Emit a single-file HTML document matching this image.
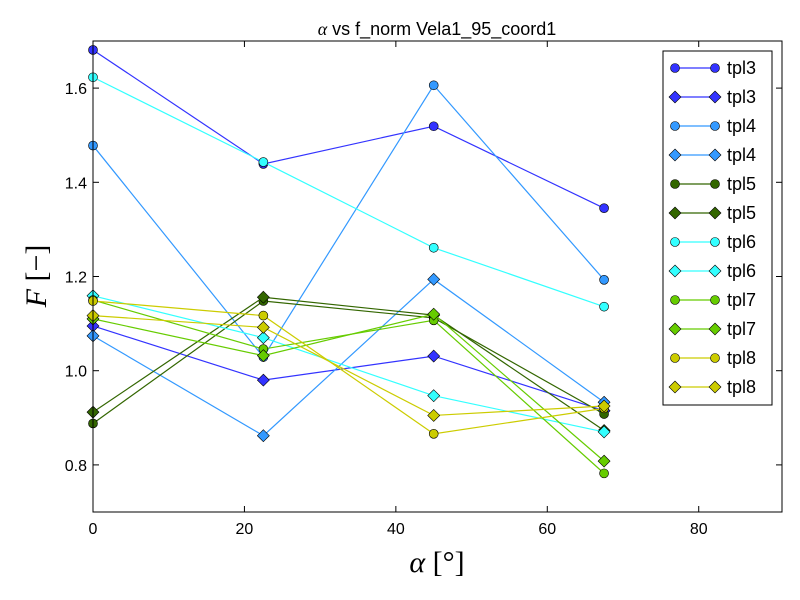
<!DOCTYPE html>
<html><head><meta charset="utf-8"><style>body{margin:0;background:#fff}svg{display:block}</style></head>
<body>
<svg id="chart" width="800" height="600" xmlns="http://www.w3.org/2000/svg" font-family="Liberation Sans, DejaVu Sans, sans-serif">
<rect width="800" height="600" fill="#fff"/>
<text x="437" y="35" font-size="18" text-anchor="middle"><tspan font-family="Liberation Serif, serif" font-style="italic">α</tspan> vs f_norm Vela1_95_coord1</text>
<g id="axes"></g>
<g id="series"></g>
<rect x="93" y="41" width="689" height="471" fill="none" stroke="#000" stroke-width="1"/>
<text x="437" y="572" font-size="30" text-anchor="middle" font-family="Liberation Serif, DejaVu Serif, serif"><tspan font-style="italic">α</tspan> [°]</text>
<text transform="translate(46,276) rotate(-90)" font-size="30" text-anchor="middle" font-family="Liberation Serif, DejaVu Serif, serif"><tspan font-style="italic">F</tspan> [−]</text>
<g id="legend"></g>
</svg>
<script>
const xValues = [0, 22.5, 45, 67.5];
const seriesNames = ["tpl3","tpl3","tpl4","tpl4","tpl5","tpl5","tpl6","tpl6","tpl7","tpl7","tpl8","tpl8"];
const seriesMarkers = ["o","d","o","d","o","d","o","d","o","d","o","d"];
const seriesColors = ["#3333ff","#3333ff","#3399ff","#3399ff","#336600","#336600","#33ffff","#33ffff","#66cc00","#66cc00","#cccc00","#cccc00"];
const tpl3Circle = [1.681, 1.439, 1.519, 1.345];
const tpl3Diamond = [1.095, 0.980, 1.031, 0.915];
const tpl4Circle = [1.478, 1.029, 1.606, 1.193];
const tpl4Diamond = [1.074, 0.862, 1.194, 0.933];
const tpl5Circle = [0.888, 1.148, 1.112, 0.908];
const tpl5Diamond = [0.912, 1.156, 1.118, 0.873];
const tpl6Circle = [1.623, 1.443, 1.261, 1.136];
const tpl6Diamond = [1.159, 1.070, 0.947, 0.870];
const tpl7Circle = [1.150, 1.046, 1.107, 0.782];
const tpl7Diamond = [1.110, 1.032, 1.120, 0.808];
const tpl8Circle = [1.148, 1.117, 0.866, 0.920];
const tpl8Diamond = [1.117, 1.092, 0.905, 0.925];
const allSeries = [tpl3Circle,tpl3Diamond,tpl4Circle,tpl4Diamond,tpl5Circle,tpl5Diamond,tpl6Circle,tpl6Diamond,tpl7Circle,tpl7Diamond,tpl8Circle,tpl8Diamond];
const xTicks = [0,20,40,60,80];
const yTicks = [0.8,1.0,1.2,1.4,1.6];
const yTickLabels = ["0.8","1.0","1.2","1.4","1.6"];

const L=93,R=782,T=41,B=512, X0=0,X1=91,Y0=0.7,Y1=1.7;
const xs=v=>L+(v-X0)/(X1-X0)*(R-L);
const ys=v=>B-(v-Y0)/(Y1-Y0)*(B-T);
const NS="http://www.w3.org/2000/svg";
function mk(tag,attrs,parent){const e=document.createElementNS(NS,tag);for(const k in attrs)e.setAttribute(k,attrs[k]);parent.appendChild(e);return e;}
const axes=document.getElementById('axes');
xTicks.forEach(t=>{const x=xs(t);
 const tk=mk('line',{x1:x,x2:x,y1:B,y2:B-6,stroke:'#000'},axes);
 
 
 const tk2=mk('line',{x1:x,x2:x,y1:T,y2:T+6,stroke:'#000'},axes);
 
 
 const tx=mk('text',{x:x,y:B+22,'font-size':16,'text-anchor':'middle'},axes);tx.textContent=t;
 
 });
yTicks.forEach((t,i)=>{const y=ys(t);
 const tk=mk('line',{x1:L,x2:L+6,y1:y,y2:y,stroke:'#000'},axes);
 
 
 const tk2=mk('line',{x1:R,x2:R-6,y1:y,y2:y,stroke:'#000'},axes);
 
 
 const tx=mk('text',{x:L-6,y:y+6,'font-size':16,'text-anchor':'end'},axes);tx.textContent=yTickLabels[i];
 
 });
function marker(type,x,y,color,parent){
 if(type==='o') return mk('circle',{cx:x,cy:y,r:4.5,fill:color,stroke:'#000','stroke-width':0.6},parent);
 const s=6;return mk('polygon',{points:`${x},${y-s} ${x+s},${y} ${x},${y+s} ${x-s},${y}`,fill:color,stroke:'#000','stroke-width':0.6},parent);
}
const sg=document.getElementById('series');
allSeries.forEach((vals,si)=>{
 const g=mk('g',{},sg);
 
 
 const pts=vals.map((v,i)=>xs(xValues[i])+','+ys(v)).join(' ');
 const pl=mk('polyline',{points:pts,fill:'none',stroke:seriesColors[si],'stroke-width':1.2},g);
 
 
 vals.forEach((v,i)=>{const m=marker(seriesMarkers[si],xs(xValues[i]),ys(v),seriesColors[si],g);
  
  });
});
const lg=document.getElementById('legend');
const box=mk('rect',{x:663,y:51,width:109,height:354,fill:'#fff',stroke:'#000'},lg);


seriesNames.forEach((n,i)=>{const y=68+i*29;
 const g=mk('g',{},lg);
 
 
 mk('line',{x1:675,x2:715,y1:y,y2:y,stroke:seriesColors[i],'stroke-width':1.2},g);
 marker(seriesMarkers[i],675,y,seriesColors[i],g);
 marker(seriesMarkers[i],715,y,seriesColors[i],g);
 const t=mk('text',{x:727,y:y+6,'font-size':18},g);t.textContent=n;});
</script>
</body></html>
